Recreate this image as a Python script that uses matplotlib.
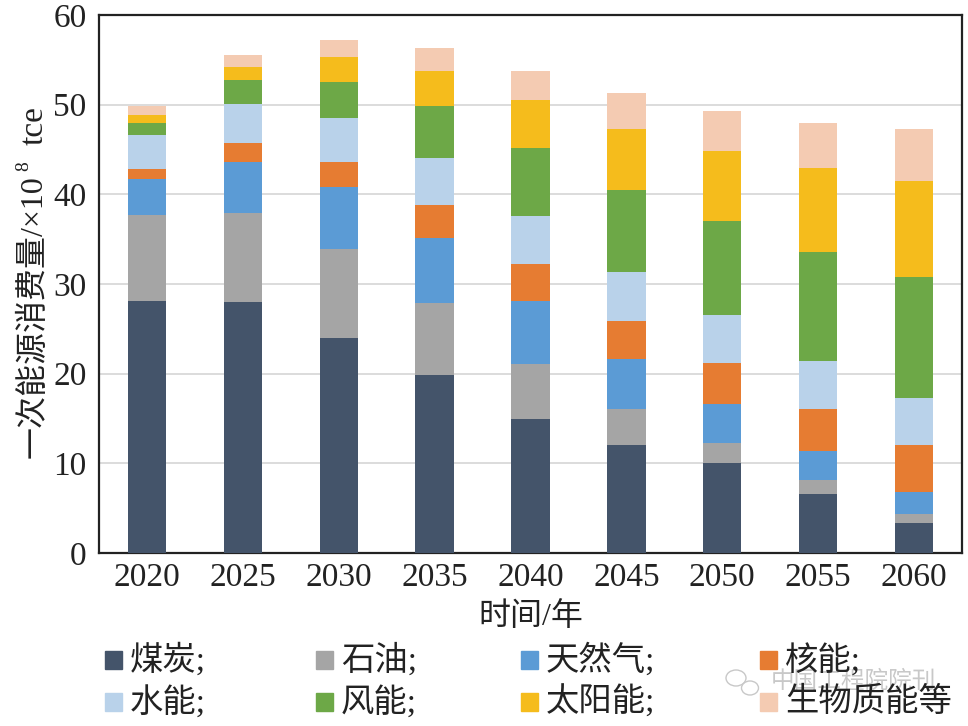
import matplotlib
matplotlib.use("Agg")
import numpy as np
import matplotlib.pyplot as plt
from matplotlib.patches import Rectangle, Ellipse

plt.rcParams['font.family'] = ['Liberation Serif', 'Noto Sans CJK SC', 'DejaVu Sans']

years = ["2020", "2025", "2030", "2035", "2040", "2045", "2050", "2055", "2060"]

coal = [28.1, 28.0, 24.0, 19.8, 15.0, 12.0, 10.0, 6.6, 3.4]
oil = [9.6, 9.9, 9.9, 8.1, 6.1, 4.1, 2.3, 1.5, 1.0]
gas = [4.0, 5.7, 6.9, 7.2, 7.0, 5.5, 4.3, 3.3, 2.4]
nuclear = [1.1, 2.1, 2.8, 3.7, 4.1, 4.3, 4.6, 4.7, 5.2]
hydro = [3.8, 4.4, 4.9, 5.3, 5.4, 5.4, 5.3, 5.3, 5.3]
wind = [1.4, 2.6, 4.0, 5.7, 7.6, 9.2, 10.5, 12.2, 13.5]
solar = [0.9, 1.5, 2.8, 4.0, 5.3, 6.8, 7.8, 9.3, 10.7]
biomass = [0.9, 1.3, 1.9, 2.5, 3.2, 4.0, 4.5, 5.0, 5.8]

series = [coal, oil, gas, nuclear, hydro, wind, solar, biomass]
names = ["煤炭;", "石油;", "天然气;", "核能;", "水能;", "风能;", "太阳能;", "生物质能等"]
colors = ["#44546A", "#A5A5A5", "#5B9BD5", "#E67C32",
          "#B9D2EA", "#6DA847", "#F5BC1C", "#F4CBB2"]

W, H = 968, 726
fig = plt.figure(figsize=(W / 100, H / 100), dpi=100)
ax = fig.add_axes([99 / W, 1 - 553 / H, 863 / W, 538 / H])

# 堆叠柱状图
x = np.arange(len(years))
bottom = np.zeros(len(years))
for values, name, color in zip(series, names, colors):
    ax.bar(x, values, width=0.4, bottom=bottom, color=color, label=name, zorder=3)
    bottom += np.array(values)

ax.set_xlim(-0.5, len(years) - 0.5)
ax.set_ylim(0, 60)
ax.set_xticks(x)
ax.set_xticklabels(years)
ax.set_yticks(range(0, 61, 10))
ax.tick_params(axis="both", length=0, labelsize=24, colors="#222222")
ax.tick_params(axis="x", pad=7)
ax.tick_params(axis="y", pad=9)
ax.grid(axis="y", color="#D9D9D9", linewidth=1.3, zorder=0)
for spine in ax.spines.values():
    spine.set_linewidth(1.6)
    spine.set_color("#222222")

ax.set_xlabel("时间/年", fontsize=23, labelpad=6, color="#222222")

# y 轴标题分段写：mathtext 里中文字体回退会失效
label_kw = dict(rotation=90, ha="left", va="center", color="#222222", rotation_mode="anchor")
fig.text(34 / W, 1 - 458 / H, "一次能源消费量/×10", fontsize=23, **label_kw)
fig.text(24 / W, 1 - 171 / H, "8", fontsize=14, **label_kw)
fig.text(34 / W, 1 - 145 / H, "tce", fontsize=24, **label_kw)

# 水印
fig.text(771 / W, 1 - 682 / H, "中国工程院院刊", fontsize=17, color="#C8C8C8",
         ha="left", va="center", zorder=1)
for cx, cy, w, h in [(736, 678, 20, 16), (750, 688, 17, 14)]:
    fig.add_artist(Ellipse((cx / W, 1 - cy / H), w / W, h / H, fill=False,
                           edgecolor="#C8C8C8", linewidth=1,
                           transform=fig.transFigure, zorder=1))

# 图例：手动摆放，列宽不等
legend_x = [105, 316, 521, 760]
legend_y = [660, 702]
for i, (name, color) in enumerate(zip(names, colors)):
    col = i % 4
    row = i // 4
    fig.add_artist(Rectangle((legend_x[col] / W, 1 - (legend_y[row] + 9) / H),
                             17 / W, 18 / H, color=color,
                             transform=fig.transFigure, zorder=2))
    fig.text((legend_x[col] + 25) / W, 1 - legend_y[row] / H, name, fontsize=24,
             ha="left", va="center", color="#222222", zorder=3)

fig.savefig("out.png", dpi=100)
